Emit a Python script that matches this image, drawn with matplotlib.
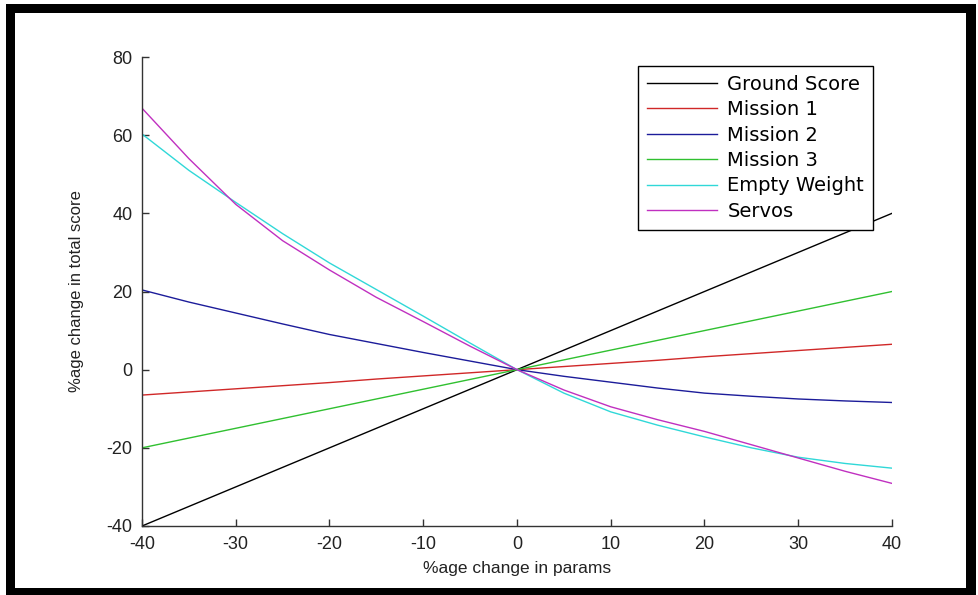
import matplotlib
matplotlib.use('Agg')
import matplotlib.pyplot as plt
from matplotlib.patches import Rectangle

plt.rcParams['axes.unicode_minus'] = False

# Sensitivity data (% change in params -> % change in total score)
params = [-40, -35, -30, -25, -20, -15, -10, -5, 0, 5, 10, 15, 20, 25, 30, 35, 40]
ground_score = [-40, -35, -30, -25, -20, -15, -10, -5, 0, 5, 10, 15, 20, 25, 30, 35, 40]
mission_1 = [-6.5, -5.7, -4.9, -4.1, -3.3, -2.4, -1.6, -0.8, 0, 0.8, 1.6, 2.4, 3.3, 4.1, 4.9, 5.7, 6.5]
mission_2 = [20.4, 17.3, 14.5, 11.7, 9.0, 6.7, 4.4, 2.2, 0, -1.7, -3.2, -4.7, -6.0, -6.8, -7.5, -8.0, -8.4]
mission_3 = [-20, -17.5, -15, -12.5, -10, -7.5, -5, -2.5, 0, 2.5, 5, 7.5, 10, 12.5, 15, 17.5, 20]
empty_weight = [60.3, 51.0, 42.8, 34.8, 27.3, 20.5, 13.7, 6.8, 0, -6.0, -10.8, -14.2, -17.2, -20.0, -22.4, -24.0, -25.2]
servos = [66.9, 54.0, 42.3, 33.0, 25.5, 18.5, 12.3, 6.0, 0, -5.2, -9.5, -12.8, -15.8, -19.2, -22.6, -26.0, -29.1]

series = [
    ('Ground Score', ground_score, '#000000'),
    ('Mission 1', mission_1, '#d02828'),
    ('Mission 2', mission_2, '#1c1c9a'),
    ('Mission 3', mission_3, '#30c030'),
    ('Empty Weight', empty_weight, '#30d8d8'),
    ('Servos', servos, '#c030c0'),
]

W, H = 979, 595
fig = plt.figure(figsize=(W / 100, H / 100), dpi=100)
fig.patch.set_facecolor('white')

tickfont = 'Liberation Sans'

# axes placed in pixel terms of the original screenshot
ax = fig.add_axes([142 / W, 1 - 526 / H, 750 / W, 469 / H])
for name, vals, col in series:
    ax.plot(params, vals, color=col, linewidth=1.0, label=name)

ax.set_xlim(-40, 40)
ax.set_ylim(-40, 80)
ax.set_xticks(range(-40, 41, 10))
ax.set_yticks(range(-40, 81, 20))
ax.spines['top'].set_visible(False)
ax.spines['right'].set_visible(False)
for s in ('left', 'bottom'):
    ax.spines[s].set_color('#333333')
    ax.spines[s].set_linewidth(1.0)
ax.tick_params(direction='in', length=5, width=1, color='#333333',
               labelcolor='#222222', pad=7)
for lab in ax.get_xticklabels() + ax.get_yticklabels():
    lab.set_family(tickfont)
    lab.set_fontsize(13)

ax.set_xlabel('%age change in params', family=tickfont, fontsize=12.5,
              color='#222222', labelpad=6)
ax.set_ylabel('%age change in total score', family=tickfont, fontsize=12,
              color='#222222', labelpad=16)

leg = ax.legend(loc='upper left', bbox_to_anchor=(638 / W, 1 - 66 / H),
                bbox_transform=fig.transFigure, fancybox=False, framealpha=1,
                edgecolor='black', handlelength=3.6, handletextpad=0.55,
                labelspacing=0.33, borderpad=0.45, borderaxespad=0,
                prop={'family': 'DejaVu Sans', 'size': 14})
leg.get_frame().set_linewidth(1.0)

# thick black frame around the screenshot
frame = [(6, 4, 963, 9), (6, 4, 9, 591), (6, 588, 970, 7), (966, 4, 10, 591)]
for x, y, w, h in frame:
    fig.add_artist(Rectangle((x / W, 1 - (y + h) / H), w / W, h / H,
                             transform=fig.transFigure, facecolor='black',
                             edgecolor='none'))

plt.savefig('out.png', dpi=100)
